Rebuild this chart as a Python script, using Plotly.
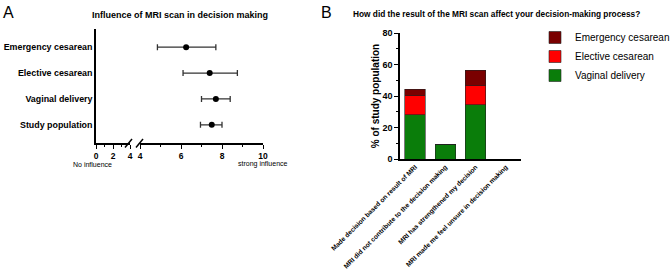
import plotly.graph_objects as go

# ---------- Panel A data ----------
groups_a = ["Study population", "Vaginal delivery", "Elective cesarean", "Emergency cesarean"]
mean_a = [7.5, 7.7, 7.4, 6.25]
low_a = [6.95, 7.0, 6.1, 4.85]
high_a = [8.0, 8.4, 8.75, 7.7]

# ---------- Panel B data ----------
cats_b = [
    "Made decision based on result of MRI",
    "MRI did not contribute to the decision making",
    "MRI has strengthened my decision",
    "MRI made me feel unsure in decision making",
]
vaginal_b = [28, 9.3, 34.3, 0]
elective_b = [12.2, 0, 12.2, 0]
emergency_b = [4, 0, 10, 0]

FONT = "Arial, Liberation Sans, Helvetica, sans-serif"
W, H = 670, 276

def px(x):
    return x / W

def py(y):
    return (H - y) / H

fig = go.Figure()

# Panel A: points with error bars (on broken axis part 4-10)
fig.add_trace(go.Scatter(
    x=mean_a, y=list(range(len(groups_a))),
    mode="markers",
    marker=dict(color="black", size=6),
    error_x=dict(type="data", symmetric=False,
                 array=[h - m for h, m in zip(high_a, mean_a)],
                 arrayminus=[m - l for m, l in zip(mean_a, low_a)],
                 color="#333333", thickness=1.3, width=3),
    xaxis="x2", yaxis="y", showlegend=False,
))
fig.add_trace(go.Scatter(x=[None], y=[None], xaxis="x", yaxis="y", showlegend=False))

# Panel B stacked bars
for name, vals, col in [("Vaginal delivery", vaginal_b, "#0a7d0a"),
                        ("Elective cesarean", elective_b, "#ff0000"),
                        ("Emergency cesarean", emergency_b, "#7a0000")]:
    fig.add_trace(go.Bar(
        x=cats_b, y=vals, name=name,
        marker=dict(color=col, line=dict(color="#222222", width=0.6)),
        width=0.67, xaxis="x3", yaxis="y2",
    ))

tickfont_a = dict(family=FONT, size=8.5, color="black", weight="bold")

fig.update_layout(
    width=W, height=H,
    margin=dict(l=0, r=0, t=0, b=0, autoexpand=False),
    paper_bgcolor="white", plot_bgcolor="white",
    barmode="stack",
    font=dict(family=FONT, color="black"),
    xaxis=dict(domain=[px(96), px(130)], range=[0, 4], anchor="y", automargin=False,
               tickvals=[0, 2, 4], showline=True, linecolor="black", linewidth=1.5,
               ticks="outside", ticklen=4, tickwidth=1.3, tickcolor="black",
               minor=dict(tickvals=[1, 3], ticks="outside", ticklen=2.5, tickwidth=1.2, tickcolor="black"),
               showgrid=False, zeroline=False, tickfont=tickfont_a),
    xaxis2=dict(domain=[px(140), px(263)], range=[4, 10], anchor="y", automargin=False,
                tickvals=[4, 6, 8, 10], showline=True, linecolor="black", linewidth=1.5,
                ticks="outside", ticklen=4, tickwidth=1.3, tickcolor="black",
                minor=dict(tickvals=[5, 7, 9], ticks="outside", ticklen=2.5, tickwidth=1.2, tickcolor="black"),
                showgrid=False, zeroline=False, tickfont=tickfont_a),
    yaxis=dict(domain=[py(143), py(29)], range=[-0.7, 3.7], anchor="x", automargin=False,
               tickvals=list(range(len(groups_a))), ticktext=groups_a,
               showline=True, linecolor="black", linewidth=1.5, ticks="",
               showgrid=False, zeroline=False,
               tickfont=dict(family=FONT, size=8.9, color="black", weight="bold")),
    xaxis3=dict(domain=[px(400), px(521)], anchor="y2", range=[-0.5, 3.5], automargin=False,
                showline=True, linecolor="black", linewidth=1.5, ticks="",
                tickangle=-45, showgrid=False,
                tickfont=dict(family=FONT, size=6.6, color="black", weight="bold")),
    yaxis2=dict(domain=[py(159), py(33)], range=[0, 80], anchor="x3", automargin=False,
                tickvals=[0, 20, 40, 60, 80],
                showline=True, linecolor="black", linewidth=1.5,
                ticks="outside", ticklen=4, tickwidth=1.3, tickcolor="black",
                minor=dict(dtick=10, ticks="outside", ticklen=2.5, tickwidth=1.0, tickcolor="black"),
                showgrid=False, zeroline=False,
                title=dict(text="% of study population", standoff=1,
                           font=dict(family=FONT, size=10, color="black", weight="bold")),
                tickfont=dict(family=FONT, size=9, color="black", weight="bold")),
    legend=dict(x=px(535), y=py(23), xanchor="left", yanchor="top",
                traceorder="reversed", font=dict(family=FONT, size=10, color="black"),
                itemwidth=30, tracegroupgap=0, bgcolor="rgba(0,0,0,0)"),
)

annotations = [
    dict(text="A", x=px(8), y=py(13), font=dict(size=16, family=FONT)),
    dict(text="Influence of MRI scan in decision making", x=px(180), y=py(15),
         font=dict(size=9, family=FONT, weight="bold")),
    dict(text="No influence", x=px(92), y=py(164), font=dict(size=7, family=FONT)),
    dict(text="strong influence", x=px(263), y=py(164), font=dict(size=7, family=FONT)),
    dict(text="B", x=px(326), y=py(13), font=dict(size=16, family=FONT)),
    dict(text="How did the result of the MRI scan affect your decision-making process?",
         x=px(496), y=py(14), font=dict(size=8.3, family=FONT, weight="bold")),
]
for a in annotations:
    a.update(xref="paper", yref="paper", showarrow=False)
    a.setdefault("xanchor", "center")
    a.setdefault("yanchor", "middle")
    fig.add_annotation(**a)

# axis-break marks
for x0 in (125, 136):
    fig.add_shape(type="line", xref="paper", yref="paper",
                  x0=px(x0), y0=py(147.5), x1=px(x0 + 7), y1=py(139),
                  line=dict(color="black", width=1.5))

fig.write_html("out.html", config={"displayModeBar": False},
               post_script="document.body.style.margin='0';document.body.style.padding='0';document.body.style.overflow='hidden';")
